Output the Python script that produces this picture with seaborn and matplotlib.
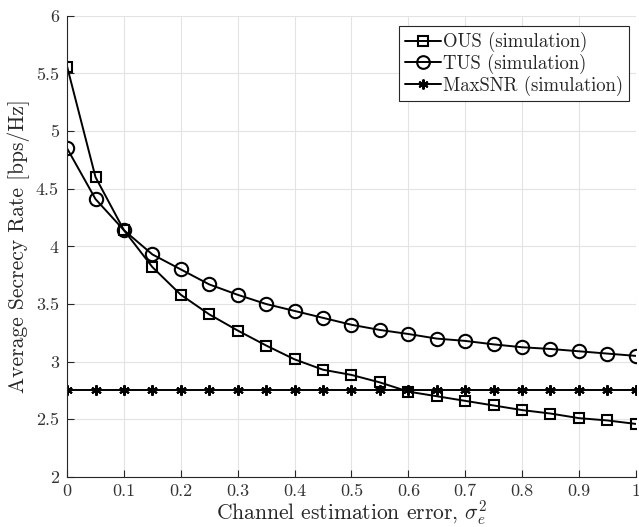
import matplotlib
matplotlib.use("Agg")
import matplotlib.pyplot as plt
import seaborn as sns
import pandas as pd
import numpy as np

x_vals = [0.0, 0.05, 0.1, 0.15, 0.2, 0.25, 0.3, 0.35, 0.4, 0.45, 0.5,
          0.55, 0.6, 0.65, 0.7, 0.75, 0.8, 0.85, 0.9, 0.95, 1.0]
ous = [5.56, 4.60, 4.14, 3.82, 3.58, 3.41, 3.27, 3.14, 3.02, 2.93, 2.885,
       2.82, 2.74, 2.70, 2.66, 2.62, 2.58, 2.55, 2.51, 2.49, 2.46]
tus = [4.85, 4.41, 4.14, 3.93, 3.80, 3.67, 3.58, 3.50, 3.44, 3.38, 3.32,
       3.275, 3.24, 3.20, 3.18, 3.15, 3.125, 3.11, 3.09, 3.07, 3.05]
maxsnr = [2.755] * 21
series_names = ["OUS (simulation)", "TUS (simulation)", "MaxSNR (simulation)"]
x_ticks = [0, 0.1, 0.2, 0.3, 0.4, 0.5, 0.6, 0.7, 0.8, 0.9, 1]
x_tick_labels = ["0", "0.1", "0.2", "0.3", "0.4", "0.5", "0.6", "0.7", "0.8", "0.9", "1"]
y_ticks = [2, 2.5, 3, 3.5, 4, 4.5, 5, 5.5, 6]
y_tick_labels = ["2", "2.5", "3", "3.5", "4", "4.5", "5", "5.5", "6"]

sns.set_theme(style="white")
plt.rcParams["font.family"] = ["cmr10", "DejaVu Serif"]
plt.rcParams["mathtext.fontset"] = "cm"
plt.rcParams["axes.formatter.use_mathtext"] = True

fig = plt.figure(figsize=(6.39, 5.27), dpi=100)
ax = fig.add_axes([0.105, 0.095, 0.89, 0.875])

series_data = [ous, tus, maxsnr]
marker_list = ["s", "o", (6, 2, 0)]
size_list = [7.7, 9.6, 7.5]

for name, vals, mk, ms in zip(series_names, series_data, marker_list, size_list):
    d = pd.DataFrame({"x": x_vals, "y": vals})
    kw = dict(marker=mk, markersize=ms, markeredgewidth=1.5, markeredgecolor="black")
    if mk in ("s", "o"):
        kw["markerfacecolor"] = "none"
    sns.lineplot(data=d, x="x", y="y", color="black", linewidth=1.4,
                 label=name, ax=ax, **kw)

ax.set_xlim(0, 1)
ax.set_ylim(2, 6)
ax.set_xticks(x_ticks)
ax.set_xticklabels(x_tick_labels)
ax.set_yticks(y_ticks)
ax.set_yticklabels(y_tick_labels)
ax.tick_params(axis="both", direction="in", length=5, width=0.8, colors="#262626",
               labelsize=13, top=False, right=False, left=True, bottom=True, pad=6)
ax.tick_params(axis="x", pad=5)
for lab in ax.get_xticklabels() + ax.get_yticklabels():
    lab.set_color("#333333")
ax.grid(True, color="#e3e3e3", linewidth=0.8)
for s in ["top", "right"]:
    ax.spines[s].set_visible(False)
for s in ["left", "bottom"]:
    ax.spines[s].set_color("#262626")
    ax.spines[s].set_linewidth(0.8)

ax.set_xlabel(r"Channel estimation error, $\sigma_e^2$", fontsize=15.5, color="#262626", labelpad=0)
ax.set_ylabel("Average Secrecy Rate [bps/Hz]", fontsize=15.5, color="#262626", labelpad=4)

handles, labels = ax.get_legend_handles_labels()
leg = ax.legend(handles, labels, loc="upper right", bbox_to_anchor=(0.995, 0.985),
                fontsize=13.5, frameon=True, fancybox=False, edgecolor="#262626",
                framealpha=1, handlelength=1.9, handletextpad=0.15, borderpad=0.3,
                labelspacing=0.08, borderaxespad=0.2, markerscale=0.95)
leg.get_frame().set_linewidth(0.8)

fig.savefig("out.png", dpi=100)
